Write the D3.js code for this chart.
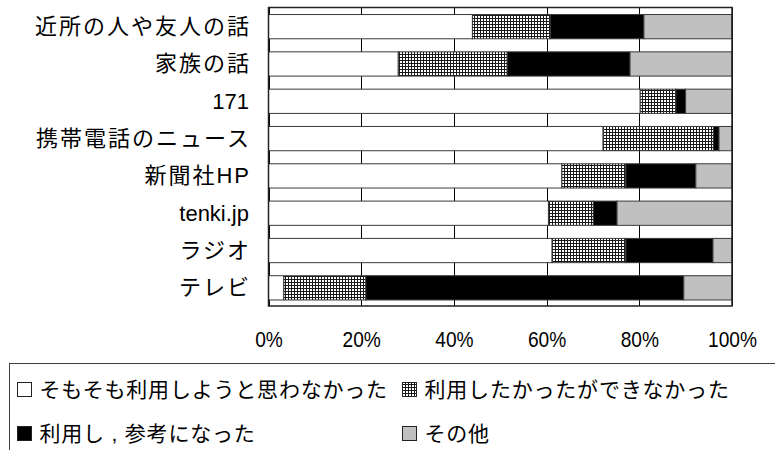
<!DOCTYPE html>
<html><head><meta charset="utf-8">
<script src="https://cdn.jsdelivr.net/npm/d3@7"></script>
<style>
html,body{margin:0;padding:0;background:#fff;}
svg{display:block;}
</style></head>
<body>
<svg id="chart" width="775" height="450"></svg>
<script>
// ---- data ----
const categories = ["近所の人や友人の話","家族の話","171","携帯電話のニュース","新聞社HP","tenki.jp","ラジオ","テレビ"];
const seriesNames = ["そもそも利用しようと思わなかった","利用したかったができなかった","利用し , 参考になった","その他"];
const notIntended = [44.0, 28.0, 80.2, 72.2, 63.3, 60.4, 61.2, 3.3];
const couldNot    = [16.8, 23.5, 7.7, 23.8, 13.8, 9.7, 15.9, 17.7];
const helpful     = [20.2, 26.5, 2.1, 1.2, 15.1, 5.1, 18.8, 68.6];
const other       = [19.0, 22.0, 10.0, 2.8, 7.8, 24.8, 4.1, 10.4];
const tickValues  = [0, 20, 40, 60, 80, 100];

const seriesValues = [notIntended, couldNot, helpful, other];
const fills = ["#ffffff", "url(#hatch)", "#000000", "#c0c0c0"];

const svg = d3.select("#chart");
const defs = svg.append("defs");
const pat = defs.append("pattern").attr("id","hatch").attr("patternUnits","userSpaceOnUse")
  .attr("width",3).attr("height",3);
pat.append("rect").attr("width",3).attr("height",3).attr("fill","#ffffff");
pat.append("rect").attr("x",0).attr("y",0).attr("width",3).attr("height",1).attr("fill","#1a1a1a");
pat.append("rect").attr("x",0).attr("y",0).attr("width",1).attr("height",3).attr("fill","#1a1a1a");

const x = d3.scaleLinear().domain([0,100]).range([268.5, 732]);
const y = d3.scaleBand().domain(categories).range([8, 306.5]).paddingInner(0.35).paddingOuter(0.175);

// table for stacking
const table = categories.map((c,i)=>{
  const row = {cat:c};
  seriesNames.forEach((s,j)=>row[s]=seriesValues[j][i]);
  return row;
});
const stack = d3.stack().keys(seriesNames).offset(d3.stackOffsetExpand);
const stacked = stack(table);

// gridlines
svg.append("g").selectAll("line").data(tickValues).join("line")
  .attr("x1",d=>Math.round(x(d))+0.5).attr("x2",d=>Math.round(x(d))+0.5)
  .attr("y1",7.5).attr("y2",306)
  .attr("stroke","#000").attr("stroke-width",1);

// bars
svg.append("g").selectAll("g").data(stacked).join("g")
  .attr("fill",(d,i)=>fills[i])
  .selectAll("rect").data(d=>d).join("rect")
  .attr("x",d=>x(d[0]*100))
  .attr("width",d=>x(d[1]*100)-x(d[0]*100))
  .attr("y",d=>y(d.data.cat))
  .attr("height",y.bandwidth())
  .attr("stroke","#3a3a3a").attr("stroke-width",1);

// frame
svg.append("rect").attr("x",268.5).attr("y",7.5).attr("width",463.5).attr("height",298.5)
  .attr("fill","none").attr("stroke","#222").attr("stroke-width",1.5);

// y labels
const isAscii = s => /^[\x00-\x7F]+$/.test(s);
svg.append("g").selectAll("text").data(categories).join("text")
  .attr("x",d=>isAscii(d)?249:251)
  .attr("y",d=>y(d)+y.bandwidth()/2)
  .attr("text-anchor","end").attr("dominant-baseline","central")
  .attr("font-family","'Liberation Sans', 'Noto Sans CJK JP', sans-serif").attr("font-size",22)
  .attr("letter-spacing",d=>isAscii(d)?"0px":"2px").attr("fill","#000")
  .text(d=>d);

// x axis tick labels
const xAxis = d3.axisBottom(x).tickValues(tickValues).tickFormat(d=>d+"%").tickSize(0).tickPadding(0);
const ax = svg.append("g").attr("transform","translate(0,331)").call(xAxis);
ax.select(".domain").remove();
ax.selectAll("text")
  .attr("font-family","'Liberation Sans', Arial, sans-serif").attr("font-size",22)
  .attr("fill","#000").attr("dy","0.72em")
  .attr("transform","scale(0.87,1)");

// legend
const lg = svg.append("g");
lg.append("rect").attr("x",9.5).attr("y",363.5).attr("width",800).attr("height",120)
  .attr("fill","#fff").attr("stroke","#404040").attr("stroke-width",1);
const legPos = [[17.5,382.5],[402.5,382.5],[17.5,426.5],[402.5,426.5]];
seriesNames.forEach((s,i)=>{
  const [lx,ly] = legPos[i];
  lg.append("rect").attr("x",lx).attr("y",ly).attr("width",14).attr("height",14)
    .attr("fill",fills[i]).attr("stroke","#222").attr("stroke-width",1);
  lg.append("text").attr("x",lx+22).attr("y",ly+7)
    .attr("dominant-baseline","central")
    .attr("font-family","'Liberation Sans', 'Noto Sans CJK JP', sans-serif").attr("font-size",21)
    .attr("letter-spacing","0.8px").attr("fill","#000").text(s);
});
</script>
</body></html>
